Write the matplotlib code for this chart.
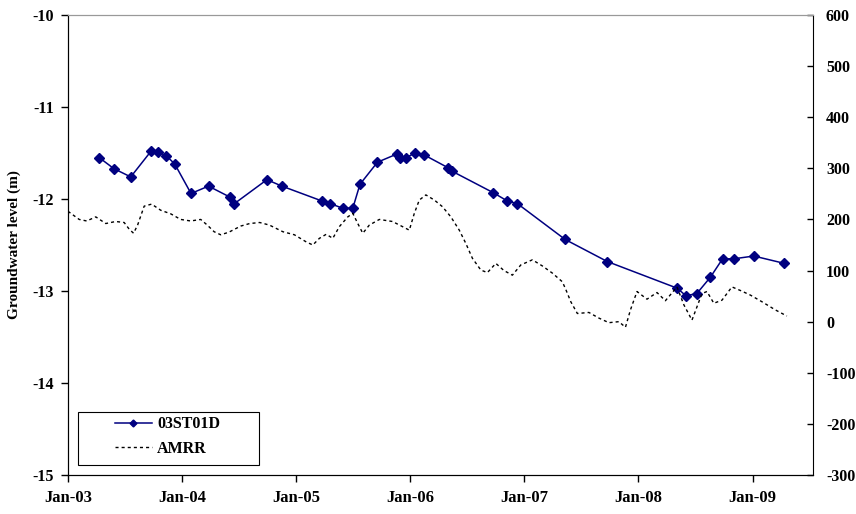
import matplotlib
matplotlib.use('Agg')
import matplotlib.pyplot as plt
import matplotlib.dates as mdates
from matplotlib.patches import Rectangle
import numpy as np
import pandas as pd

# groundwater level at bore 03ST01D (m)
well_dates = ['2003-04-11', '2003-05-28', '2003-07-21', '2003-09-24', '2003-10-16',
              '2003-11-12', '2003-12-09', '2004-01-30', '2004-03-26', '2004-06-03',
              '2004-06-17', '2004-09-29', '2004-11-16', '2005-03-23', '2005-04-19',
              '2005-05-30', '2005-07-01', '2005-07-24', '2005-09-18', '2005-11-20',
              '2005-11-29', '2005-12-19', '2006-01-16', '2006-02-14', '2006-05-02',
              '2006-05-16', '2006-09-23', '2006-11-07', '2006-12-10', '2007-05-12',
              '2007-09-24', '2008-05-05', '2008-06-01', '2008-07-06', '2008-08-19',
              '2008-09-27', '2008-11-02', '2009-01-05', '2009-04-13']
well_level = [-11.55, -11.67, -11.76, -11.48, -11.49,
              -11.53, -11.62, -11.94, -11.86, -11.98,
              -12.05, -11.79, -11.86, -12.02, -12.05,
              -12.10, -12.10, -11.84, -11.60, -11.51,
              -11.55, -11.55, -11.50, -11.52, -11.66,
              -11.70, -11.93, -12.02, -12.05, -12.44,
              -12.68, -12.97, -13.05, -13.03, -12.85,
              -12.65, -12.65, -12.62, -12.70]

# accumulated monthly residual rainfall (mm)
amrr_dates = ['2003-01-01', '2003-02-06', '2003-03-02', '2003-03-31', '2003-05-02',
              '2003-06-03', '2003-06-30', '2003-07-16', '2003-07-30', '2003-08-12',
              '2003-09-02', '2003-09-26', '2003-10-25', '2003-11-26', '2003-12-28',
              '2004-01-29', '2004-03-01', '2004-03-22', '2004-04-13', '2004-05-04',
              '2004-05-30', '2004-07-07', '2004-08-05', '2004-09-06', '2004-10-07',
              '2004-11-19', '2004-12-26', '2005-02-02', '2005-02-23', '2005-03-16',
              '2005-04-07', '2005-04-28', '2005-05-19', '2005-06-15', '2005-07-01',
              '2005-07-17', '2005-08-02', '2005-08-23', '2005-09-24', '2005-11-05',
              '2005-12-07', '2005-12-29', '2006-01-14', '2006-01-30', '2006-02-20',
              '2006-03-19', '2006-04-14', '2006-05-11', '2006-06-07', '2006-06-28',
              '2006-07-19', '2006-08-15', '2006-09-05', '2006-10-02', '2006-10-28',
              '2006-11-24', '2006-12-21', '2007-01-27', '2007-02-28', '2007-04-01',
              '2007-05-03', '2007-05-14', '2007-05-30', '2007-06-20', '2007-07-27',
              '2007-08-28', '2007-09-29', '2007-10-31', '2007-11-21', '2007-12-07',
              '2007-12-28', '2008-01-29', '2008-03-01', '2008-03-28', '2008-05-04',
              '2008-05-26', '2008-06-21', '2008-07-07', '2008-07-23', '2008-08-08',
              '2008-08-30', '2008-09-25', '2008-10-27', '2008-11-23', '2008-12-25',
              '2009-01-31', '2009-03-15', '2009-04-21']
amrr_value = [216, 200, 197, 205, 192,
              196, 194, 181, 173, 189,
              226, 230, 218, 211, 200,
              197, 200, 189, 176, 170,
              175, 187, 192, 194, 189,
              176, 170, 156, 150, 163,
              171, 163, 186, 205, 212,
              192, 173, 189, 200, 196,
              186, 179, 212, 238, 248,
              238, 225, 205, 179, 153,
              124, 101, 96, 114, 100,
              91, 111, 121, 109, 95,
              78, 63, 39, 16, 18,
              7, -2, 0, -11, 23,
              59, 44, 57, 41, 68,
              33, 3, 29, 55, 59,
              36, 42, 68, 61, 52,
              39, 23, 11]

well_dates = pd.to_datetime(well_dates)
amrr_dates = pd.to_datetime(amrr_dates)

plt.rcParams['font.family'] = 'Liberation Serif'
plt.rcParams['axes.unicode_minus'] = False

fig = plt.figure(figsize=(8.56, 5.14), dpi=100)
ax = fig.add_axes([0.0794, 0.0759, 0.8709, 0.8949])
ax2 = ax.twinx()

l1, = ax.plot(well_dates, well_level, '-', color='#000080', lw=1.1,
              marker='D', ms=5, label='03ST01D')
l2, = ax2.plot(amrr_dates, amrr_value, color='black', lw=1.0,
               linestyle=(0, (2.2, 2.2)), label='AMRR')

ax.set_xlim(pd.Timestamp('2003-01-01'), pd.Timestamp('2009-07-15'))
ax.set_ylim(-15, -10)
ax2.set_ylim(-300, 600)
ax.set_yticks(np.arange(-15, -9, 1))
ax2.set_yticks(np.arange(-300, 700, 100))

ax.xaxis.set_major_locator(mdates.YearLocator())
ax.xaxis.set_major_formatter(mdates.DateFormatter('%b-%y'))

for lab in ax.get_xticklabels():
    lab.set_fontweight('bold')
    lab.set_fontsize(12)
for lab in ax.get_yticklabels() + ax2.get_yticklabels():
    lab.set_fontweight('bold')
    lab.set_fontsize(11.5)

ax.set_ylabel('Groundwater level (m)', fontsize=11, fontweight='bold', labelpad=8)

ax.tick_params(axis='both', direction='out', length=5, width=1)
ax.tick_params(axis='x', pad=6)
ax.tick_params(axis='y', pad=5)
ax2.tick_params(axis='y', direction='in', length=4, width=1, pad=9)

for a in (ax, ax2):
    a.spines['top'].set_color('#999999')
ax.spines['right'].set_visible(False)

# legend entries without their own frame, boxed by a wider rectangle
leg = ax2.legend(handles=[l1, l2], loc='upper left', bbox_to_anchor=(0.063, 0.128),
                 prop={'weight': 'bold', 'size': 11.5}, frameon=False,
                 borderpad=0, borderaxespad=0, handlelength=2.3, markerscale=0.7,
                 handletextpad=0.35, labelspacing=0.55)
box = Rectangle((0.0134, 0.0217), 0.2423, 0.1153, transform=ax.transAxes,
                facecolor='white', edgecolor='black', lw=0.8, zorder=5)
ax2.add_patch(box)
leg.set_zorder(6)

fig.savefig('out.png', dpi=100)
